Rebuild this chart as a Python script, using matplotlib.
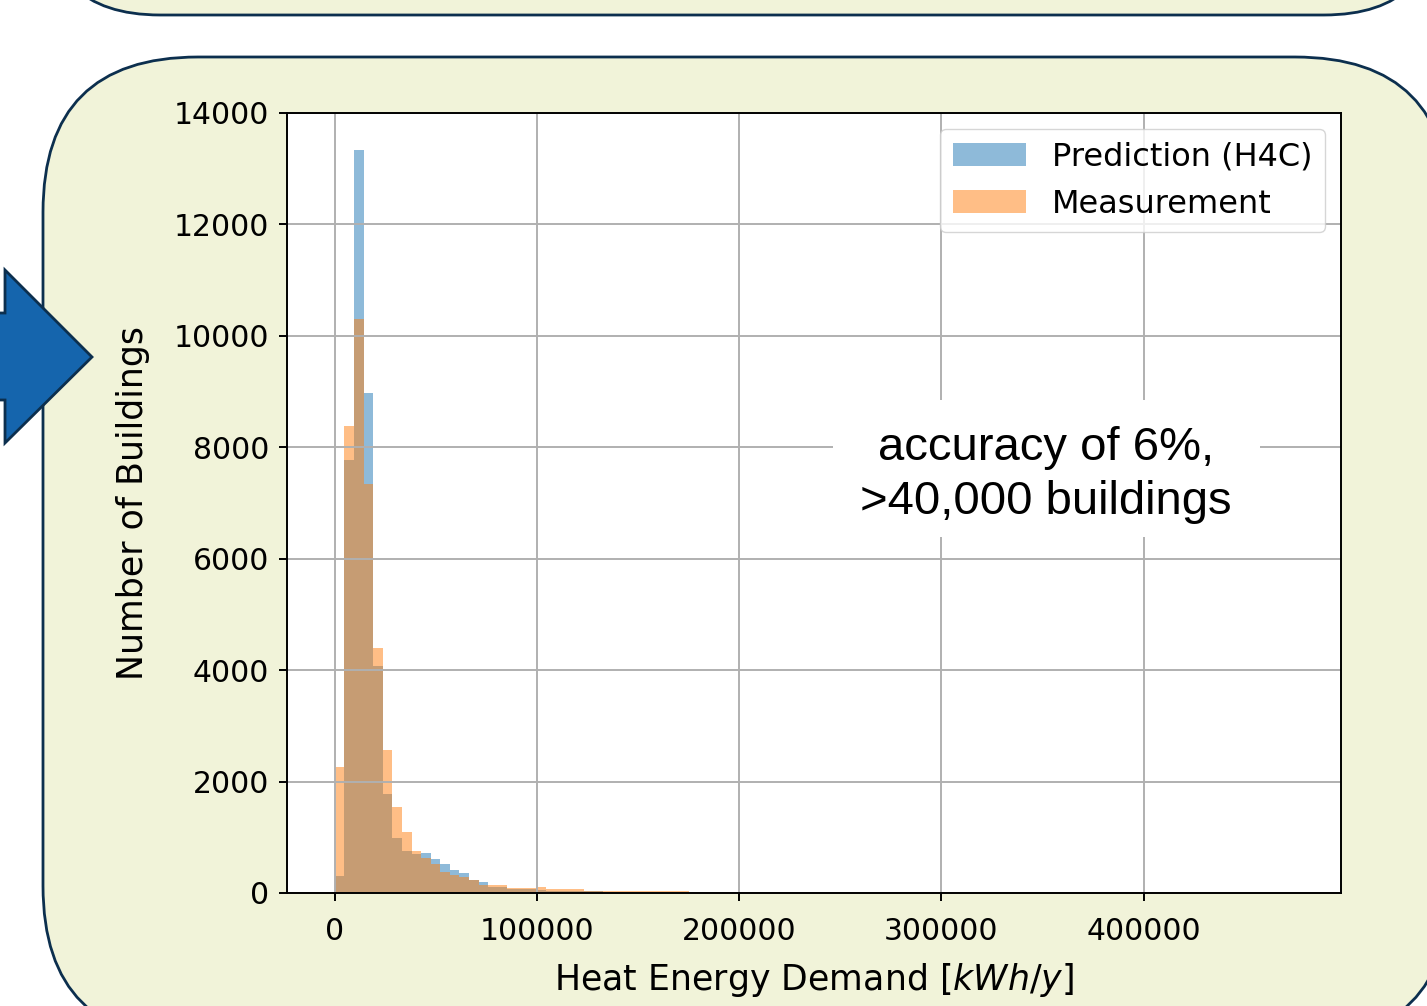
import matplotlib.pyplot as plt
import numpy as np
from matplotlib.patches import FancyBboxPatch, Polygon, Rectangle

# histogram: 100 bins from 0 to 474000 kWh/y
n_bins = 100
x_max = 474000
# counts of the first 38 bins
pred_counts = [300, 7780, 13340, 8980, 4080, 1780, 990, 750, 700, 723,
               610, 520, 413, 365, 240, 197, 115, 110, 70, 70,
               70, 60, 40, 40, 35, 35, 36, 36, 15, 15,
               15, 15, 15, 15, 15, 15, 15, 0]
meas_counts = [2270, 8380, 10300, 7340, 4390, 2570, 1550, 1100, 755, 628,
               520, 383, 323, 280, 230, 143, 143, 140, 95, 95,
               95, 113, 80, 75, 72, 72, 38, 38, 38, 38,
               38, 38, 38, 38, 38, 38, 38, 10]
# a few sparse bins further out
tail_bins = [47, 48, 49, 50, 55, 63, 72]
tail_pred = [0, 20, 0, 0, 15, 15, 12]
tail_meas = [20, 10, 20, 15, 0, 0, 0]

labels = ['Prediction (H4C)', 'Measurement']
note = 'accuracy of 6%,\n>40,000 buildings'

edges = np.linspace(0, x_max, n_bins + 1)
centers = (edges[:-1] + edges[1:]) / 2
pred = np.zeros(n_bins)
meas = np.zeros(n_bins)
pred[:len(pred_counts)] = pred_counts
meas[:len(meas_counts)] = meas_counts
pred[tail_bins] = tail_pred
meas[tail_bins] = tail_meas

W, H = 1427, 1006
fig = plt.figure(figsize=(W / 100, H / 100), dpi=100)
fig.patch.set_facecolor('white')

# slide background drawn in pixel coordinates
bg = fig.add_axes([0, 0, 1, 1], zorder=0)
bg.set_xlim(0, W)
bg.set_ylim(H, 0)
bg.axis('off')
fill = '#f1f3d9'
edge = '#0c2f4e'
bg.add_patch(FancyBboxPatch((44, -300), 1396, 315,
                            boxstyle='round,pad=0,rounding_size=116',
                            fc=fill, ec=edge, lw=2))
bg.add_patch(FancyBboxPatch((43, 57), 1407, 984,
                            boxstyle='round,pad=0,rounding_size=155',
                            fc=fill, ec=edge, lw=2))
bg.add_patch(Polygon([(-20, 313), (5, 313), (5, 270), (92, 357), (5, 443),
                      (5, 400), (-20, 400)], closed=True,
                     fc='#1565ad', ec=edge, lw=2))

ax = fig.add_axes([287 / W, 1 - 893 / H, (1341 - 287) / W, (893 - 113) / H],
                  zorder=1)
ax.set_facecolor('white')
ax.hist(centers, bins=edges, weights=pred, alpha=0.5, label=labels[0])
ax.hist(centers, bins=edges, weights=meas, alpha=0.5, label=labels[1])
ax.set_xlim(-0.05 * x_max, 1.05 * x_max)
ax.set_ylim(0, 14000)
ax.grid(True, color='#b0b0b0', linewidth=1.4)
for s in ax.spines.values():
    s.set_linewidth(1.4)
ax.tick_params(labelsize=21.5, length=6, width=1.4, pad=7)
ax.tick_params(axis='x', pad=11)
ax.set_xlabel('Heat Energy Demand [$kWh/y$]', fontsize=25, labelpad=11)
ax.set_ylabel('Number of Buildings', fontsize=25, labelpad=17)
ax.legend(loc='upper right', fontsize=23, handlelength=2.3)

ax.add_patch(Rectangle((0.518, 0.456), 0.405, 0.176, transform=ax.transAxes,
                       fc='white', ec='none', zorder=2))
ax.text(0.72, 0.536, note, transform=ax.transAxes, ha='center', va='center',
        multialignment='center', fontsize=34, family='Liberation Sans',
        linespacing=1.3, zorder=3)

fig.savefig('out.png', dpi=100)
